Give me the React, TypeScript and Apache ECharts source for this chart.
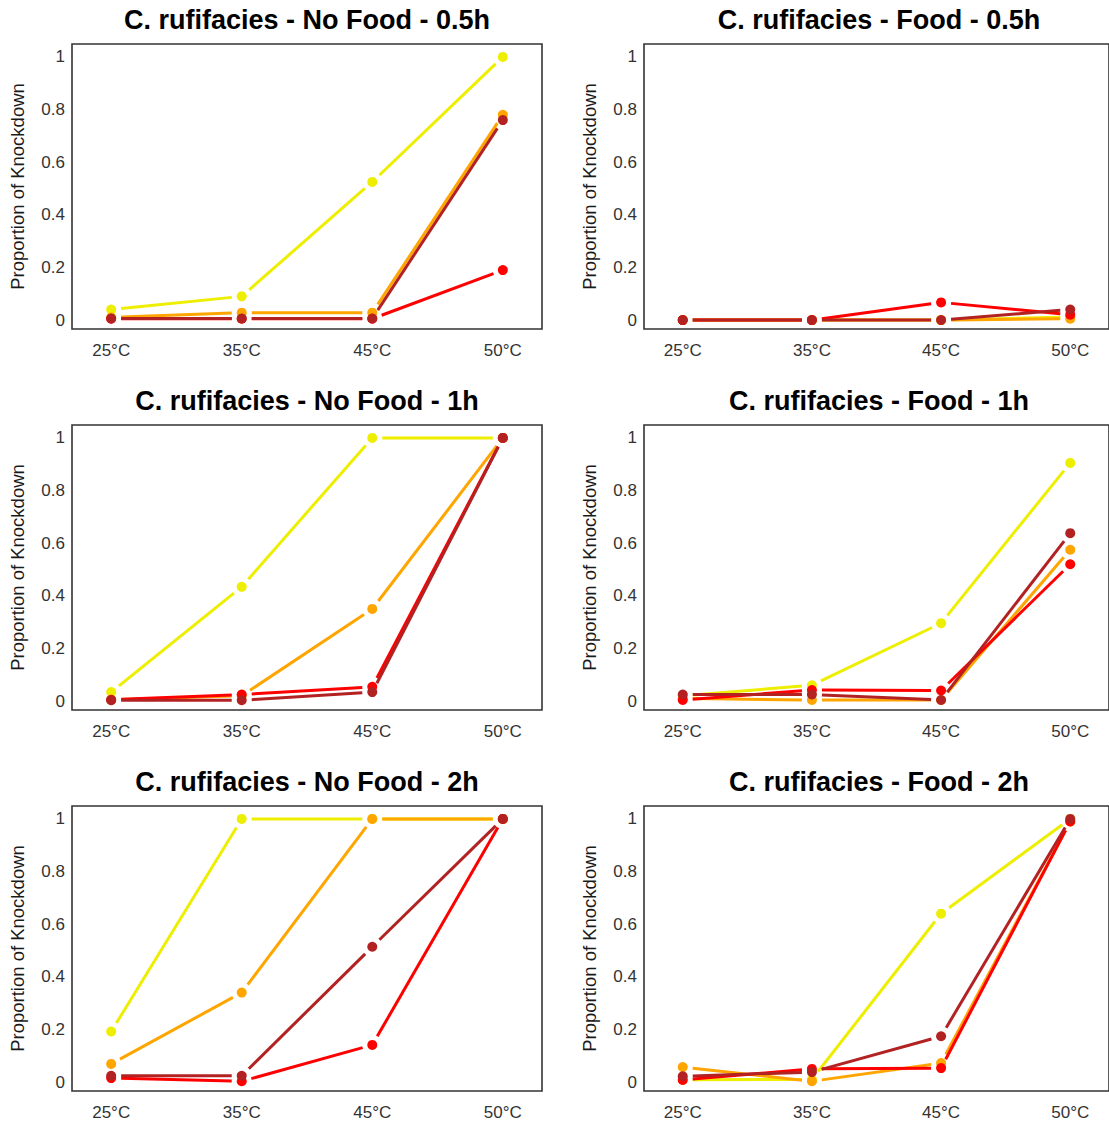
import React, { useEffect, useRef } from "react";
import * as echarts from "echarts";

const categories = ["25°C", "35°C", "45°C", "50°C"];
const yTicks = [0, 0.2, 0.4, 0.6, 0.8, 1];
const yTickLabels = ["0", "0.2", "0.4", "0.6", "0.8", "1"];
const yAxisTitle = "Proportion of Knockdown";

const panelTitles = [
  "C. rufifacies - No Food - 0.5h",
  "C. rufifacies - Food - 0.5h",
  "C. rufifacies - No Food - 1h",
  "C. rufifacies - Food - 1h",
  "C. rufifacies - No Food - 2h",
  "C. rufifacies - Food - 2h",
];

// groups drawn in order: yellow, orange, red, brown
const groupColors = ["#EEEE00", "#FFA500", "#FF0000", "#B22222"];

// each panel: [yellow, orange, red, brown] values at 25, 35, 45, 50 °C
const noFood05h = [
  [0.04, 0.09, 0.525, 1.0],
  [0.01, 0.028, 0.028, 0.78],
  [0.005, 0.005, 0.005, 0.19],
  [0.006, 0.006, 0.006, 0.76],
];
const food05h = [
  [0.0, 0.0, 0.0, 0.012],
  [0.0, 0.0, 0.0, 0.005],
  [0.0, 0.0, 0.067, 0.02],
  [0.0, 0.0, 0.0, 0.04],
];
const noFood1h = [
  [0.034, 0.434, 1.0, 1.0],
  [0.005, 0.02, 0.35, 1.0],
  [0.005, 0.025, 0.054, 1.0],
  [0.003, 0.003, 0.034, 1.0],
];
const food1h = [
  [0.02, 0.06, 0.296, 0.905],
  [0.01, 0.004, 0.004, 0.575],
  [0.004, 0.042, 0.04, 0.52],
  [0.025, 0.025, 0.004, 0.638],
];
const noFood2h = [
  [0.192, 1.0, 1.0, 1.0],
  [0.069, 0.34, 1.0, 1.0],
  [0.015, 0.003, 0.141, 1.0],
  [0.024, 0.024, 0.514, 1.0],
];
const food2h = [
  [0.009, 0.01, 0.64, 1.0],
  [0.057, 0.003, 0.072, 0.99],
  [0.008, 0.05, 0.053, 0.99],
  [0.022, 0.038, 0.174, 1.0],
];

const panels = [noFood05h, food05h, noFood1h, food1h, noFood2h, food2h];

const FONT = "'Liberation Sans', Arial, sans-serif";
const colLeft = [72, 644];
const rowTop = [44, 425, 806];
const gridW = 470;
const gridH = 285;
const GAP = 10;

export default function App() {
  const ref = useRef<HTMLDivElement>(null);
  useEffect(() => {
    document.body.style.margin = "0";
    const chart = echarts.init(ref.current!, null, { renderer: "svg" });
    const grid: any[] = [];
    const xAxis: any[] = [];
    const yAxis: any[] = [];
    const series: any[] = [];
    const graphic: any[] = [];

    panels.forEach((panel, p) => {
      const col = p % 2;
      const row = Math.floor(p / 2);
      const left = colLeft[col];
      const top = rowTop[row];
      grid.push({
        left,
        top,
        width: gridW,
        height: gridH,
        show: true,
        borderColor: "#333333",
        borderWidth: 1.6,
        backgroundColor: "transparent",
      });
      xAxis.push({
        gridIndex: p,
        type: "value",
        min: -0.3,
        max: 3.3,
        axisLine: { show: false },
        axisTick: { show: false },
        splitLine: { show: false },
        axisLabel: {
          customValues: [0, 1, 2, 3],
          formatter: (v: number) => categories[Math.round(v)] ?? "",
          fontSize: 17,
          color: "#333333",
          fontFamily: FONT,
          margin: 13,
        },
      });
      yAxis.push({
        gridIndex: p,
        type: "value",
        min: -0.034,
        max: 1.049,
        axisLine: { show: false },
        axisTick: { show: false },
        splitLine: { show: false },
        axisLabel: {
          customValues: yTicks,
          formatter: (v: number) => {
            const i = yTicks.findIndex((t) => Math.abs(t - v) < 1e-6);
            return i >= 0 ? yTickLabels[i] : "";
          },
          fontSize: 17,
          color: "#333333",
          fontFamily: FONT,
          margin: 7,
        },
        name: yAxisTitle,
        nameLocation: "middle",
        nameGap: 45,
        nameTextStyle: { fontSize: 18.5, color: "#1A1A1A", fontFamily: FONT },
      });
      graphic.push({
        type: "text",
        x: left + gridW / 2,
        y: top - 24,
        style: {
          text: panelTitles[p],
          font: `bold 27px ${FONT}`,
          fill: "#000000",
          textAlign: "center",
          textVerticalAlign: "middle",
        },
      });

      // lines (with gaps around points)
      panel.forEach((vals, g) => {
        const segs = [] as number[][];
        for (let i = 0; i < vals.length - 1; i++) {
          segs.push([i, vals[i], i + 1, vals[i + 1]]);
        }
        const color = groupColors[g];
        series.push({
          type: "custom",
          xAxisIndex: p,
          yAxisIndex: p,
          data: segs,
          encode: { x: [0, 2], y: [1, 3] },
          silent: true,
          renderItem: (_params: any, api: any) => {
            const a = api.coord([api.value(0), api.value(1)]);
            const b = api.coord([api.value(2), api.value(3)]);
            const dx = b[0] - a[0];
            const dy = b[1] - a[1];
            const len = Math.hypot(dx, dy);
            if (len <= 2 * GAP) return null;
            const ux = dx / len;
            const uy = dy / len;
            return {
              type: "line",
              shape: {
                x1: a[0] + ux * GAP,
                y1: a[1] + uy * GAP,
                x2: b[0] - ux * GAP,
                y2: b[1] - uy * GAP,
              },
              style: { stroke: color, lineWidth: 3, lineCap: "butt" },
            };
          },
        });
      });
      // points
      panel.forEach((vals, g) => {
        series.push({
          type: "scatter",
          xAxisIndex: p,
          yAxisIndex: p,
          data: vals.map((v, i) => [i, v]),
          symbol: "circle",
          symbolSize: 10,
          itemStyle: { color: groupColors[g], opacity: 1 },
          silent: true,
        });
      });
    });

    chart.setOption({
      animation: false,
      backgroundColor: "#FFFFFF",
      textStyle: { fontFamily: FONT },
      grid,
      xAxis,
      yAxis,
      series,
      graphic,
    });
    return () => chart.dispose();
  }, []);
  return (
    <div
      ref={ref}
      style={{ position: "absolute", left: 0, top: 0, width: 1109, height: 1126 }}
    />
  );
}
